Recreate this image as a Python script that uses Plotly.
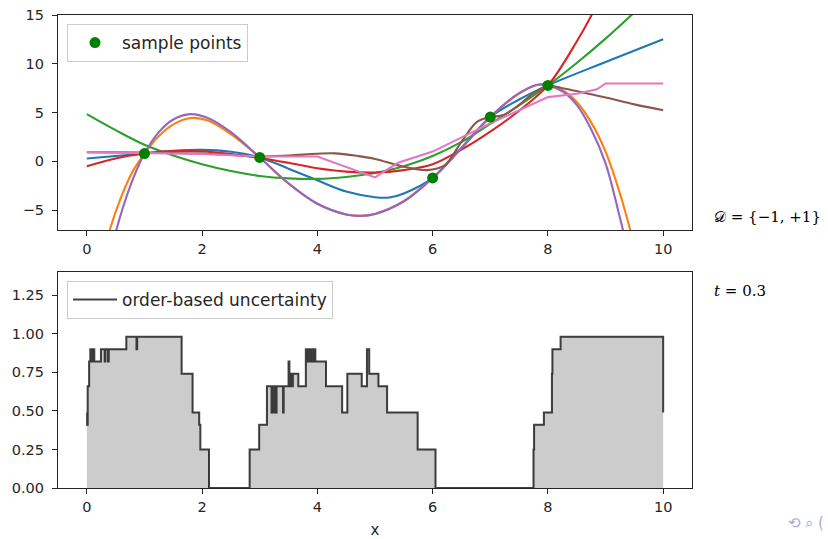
import plotly.graph_objects as go

# ---- sample points -------------------------------------------------------
sample_x = [1, 3, 6, 7, 8]
sample_y = [0.8, 0.4, -1.7, 4.55, 7.8]

# ---- candidate models (values along x) -----------------------------------
blue_x = [0, 0.5, 1, 1.5, 2, 2.5, 3, 3.5, 4, 4.5, 5, 5.25, 5.5, 6, 6.5, 7, 7.5, 8, 9, 10]
blue_y = [0.3, 0.55, 0.8, 1.08, 1.18, 0.98, 0.4, -0.75, -1.95, -3.1, -3.68, -3.72, -3.3, -1.7,
          1.4, 4.55, 6.35, 7.8, 10.2, 12.55]

orange_x = [0.2, 0.4, 0.6, 0.8, 1, 1.25, 1.5, 1.8, 2.1, 2.5, 3, 3.5, 4, 4.5, 4.75, 5, 5.5, 6,
            6.5, 7, 7.5, 7.85, 8.25, 8.5, 8.75, 9, 9.25, 9.5, 9.7]
orange_y = [-11.5, -7.0, -3.6, -1.0, 0.8, 2.6, 3.8, 4.45, 4.2, 2.8, 0.4, -2.3, -4.35, -5.45, -5.6,
            -5.4, -4.1, -1.7, 1.35, 4.55, 6.95, 7.9, 7.3, 6.1, 4.0, 1.0, -3.3, -8.6, -13.0]

green_x = [0, 0.5, 1, 1.5, 2, 2.5, 3, 3.5, 4, 4.5, 5, 5.5, 6, 6.5, 7, 7.5, 8, 8.5, 9, 9.5, 9.75]
green_y = [4.85, 3.2, 1.7, 0.6, -0.3, -1.0, -1.5, -1.75, -1.8, -1.6, -1.2, -0.5, 0.55, 2.0, 3.85,
           5.75, 7.8, 10.1, 12.6, 15.3, 16.7]

red_x = [0, 0.5, 1, 1.5, 2, 2.5, 3, 3.5, 4, 4.5, 5, 5.5, 6, 6.5, 7, 7.5, 8, 8.5, 8.8, 9]
red_y = [-0.5, 0.3, 0.8, 1.05, 1.02, 0.75, 0.35, -0.15, -0.7, -1.05, -1.15, -0.9, -0.3, 1.2, 3.05,
         5.2, 7.8, 12.3, 15.5, 18.0]

purple_x = [0.3, 0.5, 0.75, 1, 1.25, 1.5, 1.8, 2.1, 2.5, 3, 3.5, 4, 4.5, 4.75, 5, 5.5, 6, 6.5, 7,
            7.5, 7.85, 8.25, 8.5, 8.75, 9, 9.25, 9.5]
purple_y = [-12.2, -7.3, -2.6, 0.8, 3.0, 4.3, 4.85, 4.45, 3.0, 0.4, -2.25, -4.35, -5.45, -5.6, -5.4,
            -4.1, -1.7, 1.35, 4.55, 7.0, 7.9, 7.2, 5.8, 3.3, -0.2, -5.8, -12.0]

brown_x = [0, 1, 2, 2.5, 3, 3.5, 4, 4.3, 4.7, 5, 5.5, 5.9, 6.2, 6.5, 6.77, 7, 7.23, 7.5, 7.75, 8,
           8.3, 9, 9.5, 10]
brown_y = [0.95, 0.9, 0.8, 0.65, 0.5, 0.6, 0.78, 0.82, 0.55, 0.25, -0.55, -0.9, -0.45, 2.0, 4.05,
           4.55, 4.75, 5.8, 7.0, 7.75, 7.45, 6.55, 5.85, 5.25]

pink_x = [0, 1, 2, 3, 4, 5, 5.4, 6, 7, 8, 8.5, 8.85, 9, 10]
pink_y = [0.95, 0.88, 0.75, 0.5, 0.5, -1.65, -0.15, 1.0, 3.9, 6.6, 6.95, 7.4, 8.0, 8.0]

# ---- order-based uncertainty (step function, value holds until next x) ---
unc_x = [0.000, 0.005, 0.015, 0.040, 0.060, 0.068, 0.075, 0.083, 0.090, 0.098, 0.105, 0.113,
         0.120, 0.130, 0.245, 0.310, 0.322, 0.368, 0.380, 0.685, 0.862, 0.874, 1.645, 1.835,
         1.950, 1.970, 2.120, 2.825, 2.990, 3.125, 3.205, 3.215, 3.230, 3.240, 3.255, 3.265,
         3.280, 3.292, 3.405, 3.415, 3.500, 3.515, 3.525, 3.540, 3.550, 3.565, 3.575, 3.670,
         3.800, 3.815, 3.830, 3.845, 3.860, 3.875, 3.890, 3.905, 3.920, 3.935, 3.950, 3.965,
         4.150, 4.430, 4.520, 4.770, 4.860, 4.900, 5.060, 5.210, 5.740, 6.050, 7.750, 7.760,
         7.930, 8.070, 8.078, 8.220, 10.000]
unc_y = [0.49, 0.41, 0.66, 0.82, 0.90, 0.82, 0.90, 0.82, 0.90, 0.82, 0.90, 0.82,
         0.90, 0.82, 0.90, 0.82, 0.90, 0.82, 0.90, 0.98, 0.90, 0.98, 0.74, 0.49,
         0.41, 0.25, 0.00, 0.25, 0.41, 0.66, 0.49, 0.66, 0.49, 0.66, 0.49, 0.66,
         0.49, 0.66, 0.49, 0.66, 0.82, 0.66, 0.74, 0.66, 0.74, 0.66, 0.74, 0.66,
         0.90, 0.82, 0.90, 0.82, 0.90, 0.82, 0.90, 0.82, 0.90, 0.82, 0.90, 0.82,
         0.66, 0.49, 0.74, 0.66, 0.90, 0.74, 0.66, 0.49, 0.25, 0.00, 0.25, 0.41,
         0.49, 0.74, 0.90, 0.98, 0.49]

top_yticks = [-5, 0, 5, 10, 15]
bottom_yticks = [0, 0.25, 0.5, 0.75, 1.0, 1.25]
x_ticks = [0, 2, 4, 6, 8, 10]

W, H = 828, 539
FONT = "DejaVu Sans"
INK = "#262626"

fig = go.Figure()

curves = [
    (blue_x, blue_y, "#1f77b4", "spline"),
    (orange_x, orange_y, "#ff7f0e", "spline"),
    (green_x, green_y, "#2ca02c", "spline"),
    (red_x, red_y, "#d62728", "spline"),
    (purple_x, purple_y, "#9467bd", "spline"),
    (brown_x, brown_y, "#8c564b", "spline"),
    (pink_x, pink_y, "#e377c2", "linear"),
]
for cx, cy, col, shape in curves:
    fig.add_trace(go.Scatter(x=cx, y=cy, mode="lines", line=dict(color=col, width=2.1, shape=shape),
                             showlegend=False, xaxis="x", yaxis="y", hoverinfo="skip"))

fig.add_trace(go.Scatter(x=sample_x, y=sample_y, mode="markers", name="sample points",
                         marker=dict(color="green", size=11), xaxis="x", yaxis="y",
                         legend="legend"))

# shaded area under the uncertainty
fig.add_trace(go.Scatter(x=unc_x, y=unc_y, mode="lines", fill="tozeroy",
                         fillcolor="#cccccc", line=dict(width=0, shape="hv"),
                         showlegend=False, xaxis="x2", yaxis="y2", hoverinfo="skip"))
fig.add_trace(go.Scatter(x=unc_x, y=unc_y, mode="lines", name="order-based uncertainty",
                         line=dict(color="rgba(0,0,0,0.74)", width=2, shape="hv"),
                         xaxis="x2", yaxis="y2", legend="legend2"))

def px_x(p):
    return p / W

def px_y(p):
    return 1 - p / H

x_dom = [px_x(58), px_x(692)]
axis_common = dict(showline=True, mirror=True, linecolor=INK, linewidth=1.1, ticks="outside",
                   ticklen=5, tickwidth=1.1, tickcolor=INK, showgrid=False, zeroline=False,
                   tickfont=dict(family=FONT, size=14.5, color=INK), automargin=False)

fig.update_layout(
    width=W, height=H, autosize=False,
    margin=dict(l=0, r=0, t=0, b=0),
    paper_bgcolor="white", plot_bgcolor="white",
    font=dict(family=FONT, color=INK),
    xaxis=dict(domain=x_dom, anchor="y", range=[-0.5, 10.5], tickvals=x_ticks,
               ticklabelstandoff=1, **axis_common),
    yaxis=dict(domain=[px_y(230), px_y(15)], anchor="x", range=[-7.05, 15.03],
               tickvals=top_yticks, ticklabelstandoff=5, **axis_common),
    xaxis2=dict(domain=x_dom, anchor="y2", range=[-0.5, 10.5], tickvals=x_ticks,
                ticklabelstandoff=1,
                title=dict(text="x", font=dict(family=FONT, size=15, color=INK), standoff=10),
                **axis_common),
    yaxis2=dict(domain=[px_y(488), px_y(272)], anchor="x2", range=[0, 1.4],
                tickvals=bottom_yticks, tickformat=".2f", ticklabelstandoff=5, **axis_common),
    legend=dict(x=px_x(67), y=px_y(24), xanchor="left", yanchor="top",
                bgcolor="rgba(255,255,255,0.8)", bordercolor="#cccccc", borderwidth=1,
                font=dict(family=FONT, size=17, color=INK), itemwidth=44),
    legend2=dict(x=px_x(67), y=px_y(281), xanchor="left", yanchor="top",
                 bgcolor="rgba(255,255,255,0.8)", bordercolor="#cccccc", borderwidth=1,
                 font=dict(family=FONT, size=17, color=INK), itemwidth=44),
    annotations=[
        dict(text="𝒟 = {−1, +1}", x=px_x(712), y=px_y(217), xref="paper", yref="paper",
             xanchor="left", yanchor="middle", showarrow=False,
             font=dict(family="DejaVu Serif", size=15, color="black")),
        dict(text="<i>t</i> = 0.3", x=px_x(712), y=px_y(291), xref="paper", yref="paper",
             xanchor="left", yanchor="middle", showarrow=False,
             font=dict(family="DejaVu Serif", size=15, color="black")),
        dict(text="⟲ ⌕ (", x=px_x(826), y=px_y(523), xref="paper", yref="paper",
             xanchor="right", yanchor="middle", showarrow=False,
             font=dict(family=FONT, size=15, color="#a8acd8")),
    ],
)

fig.write_html("out.html")
